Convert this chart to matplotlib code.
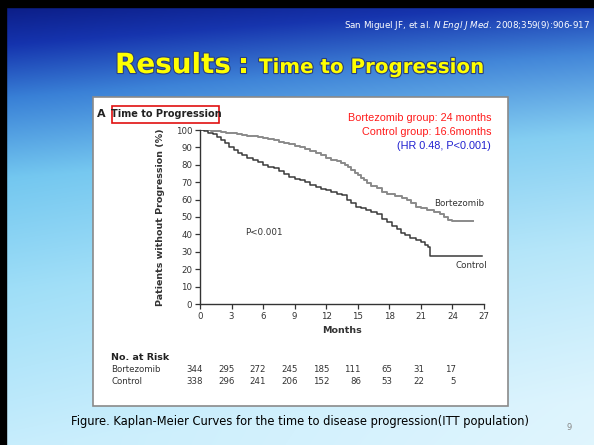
import numpy as np
import matplotlib.pyplot as plt
import matplotlib.patheffects as pe
from matplotlib.patches import Rectangle
import matplotlib.transforms as mtransforms

# ---------------- data ----------------
bort_t = [0, 0.5, 1, 1.5, 2, 2.5, 3, 3.5, 4, 4.5, 5, 5.5, 6, 6.5, 7, 7.5, 8, 8.5, 9, 9.5,
          10, 10.5, 11, 11.5, 12, 12.5, 13, 13.4, 13.8, 14.1, 14.4, 14.7, 15, 15.3, 15.6,
          15.9, 16.3, 16.8, 17.3, 17.8, 18.5, 19.2, 19.7, 20.1, 20.5, 21, 21.6, 22.2, 22.8,
          23.2, 23.6, 24, 26]
bort_s = [100, 99.8, 99.5, 99.2, 98.8, 98.4, 98, 97.6, 97.2, 96.8, 96.3, 95.8, 95.3, 94.6,
          94, 93.3, 92.5, 91.8, 91, 90.2, 89.3, 88.2, 87, 85.5, 84, 83, 82, 81, 80, 78.5,
          77, 75.5, 74, 72.5, 71, 69.5, 68, 66.5, 64.5, 63, 62, 61, 60, 58, 56, 55, 54, 53,
          51.5, 50, 48.5, 47.5, 47.5]

ctrl_t = [0, 0.4, 0.8, 1.2, 1.6, 2, 2.4, 2.8, 3.2, 3.6, 4, 4.5, 5, 5.5, 6, 6.5, 7, 7.5, 8,
          8.5, 9, 9.5, 10, 10.5, 11, 11.5, 12, 12.5, 13, 13.5, 14, 14.4, 14.8, 15.3, 15.8,
          16.3, 16.8, 17.3, 17.8, 18.3, 18.7, 19.1, 19.5, 20, 20.5, 21, 21.4, 21.7, 21.9, 26.8]
ctrl_s = [100, 99.5, 98.5, 97.5, 96, 94.5, 92.5, 90.5, 88.5, 87, 85.5, 84, 83, 81.5, 80, 79,
          78, 76.5, 75, 73, 72, 71, 70, 68.5, 67, 66, 65.3, 64.5, 63.5, 62.5, 60, 58, 56, 55,
          54, 53, 51.5, 49, 47, 45, 43, 41, 39.5, 38, 37, 35.5, 34, 32.5, 27.5, 27.5]

risk_months = [0, 3, 6, 9, 12, 15, 18, 21, 24]
risk_bort = [344, 295, 272, 245, 185, 111, 65, 31, 17]
risk_ctrl = [338, 296, 241, 206, 152, 86, 53, 22, 5]

W, H = 594, 445
fig = plt.figure(figsize=(W / 100, H / 100), dpi=100)

# ---------------- slide background ----------------
bg = fig.add_axes([0, 0, 1, 1])
yy, xx = np.mgrid[0:H, 0:W]
v = yy / H
h = xx / W
stops = [0, 0.1, 0.22, 0.4, 0.65, 1.0]
cols = np.array([[0.04, 0.10, 0.50],
                 [0.08, 0.20, 0.68],
                 [0.22, 0.50, 0.84],
                 [0.45, 0.78, 0.94],
                 [0.62, 0.87, 0.97],
                 [0.78, 0.93, 0.99]])
p = v + 0.10 * h
img = np.stack([np.interp(p, stops, cols[:, i]) for i in range(3)], axis=-1)
img = img + (1 - img) * (0.45 * h * v)[..., None]
img = np.clip(img, 0, 1)
bg.imshow(img, extent=[0, W, H, 0], aspect='auto')
bg.set_xlim(0, W)
bg.set_ylim(H, 0)
bg.axis('off')

# black frame edges
bg.add_patch(Rectangle((0, 0), W, 7, color='black'))
bg.add_patch(Rectangle((0, 0), 6, H, color='black'))

# citation
bg.text(590, 25, r'San Miguel JF, et al. $\mathit{N\ Engl\ J\ Med.}$ 2008;359(9):906-917',
        color='white', fontsize=6.3, ha='right', va='center')

# title
shadow = [pe.withStroke(linewidth=1.6, foreground='#2a3f80')]
bg.text(115, 73, 'Results', color='#ffff00', fontsize=20, fontweight='bold',
        ha='left', va='baseline', path_effects=shadow)
bg.text(238, 73, ':', color='#ffff00', fontsize=20, fontweight='bold',
        ha='left', va='baseline', path_effects=shadow)
bg.text(259, 73, 'Time to Progression', color='#ffff00', fontsize=14.3, fontweight='bold',
        ha='left', va='baseline', path_effects=shadow)

# white panel
bg.add_patch(Rectangle((93, 97), 415, 309, facecolor='white', edgecolor='#8a8a8a', lw=1.2))

bg.text(97, 114, 'A', fontsize=8, fontweight='bold', ha='left', va='center', color='#222222')
bg.text(166, 114, 'Time to Progression', fontsize=7, fontweight='bold', ha='center',
        va='center', color='#222222')
bg.add_patch(Rectangle((112, 106), 107, 17, facecolor='none', edgecolor='#e01010', lw=1.2))

bg.text(491, 118, 'Bortezomib group: 24 months', color='#ff1a1a', fontsize=7.8,
        family='Liberation Sans', ha='right', va='center')
bg.text(491, 132, 'Control group: 16.6months', color='#ff1a1a', fontsize=7.8,
        family='Liberation Sans', ha='right', va='center')
bg.text(491, 146, '(HR 0.48, P<0.001)', color='#2020d0', fontsize=7.8,
        family='Liberation Sans', ha='right', va='center')

# caption and page number
bg.text(300, 422, 'Figure. Kaplan-Meier Curves for the time to disease progression(ITT population)',
        fontsize=8.3, ha='center', va='center', color='black')
bg.text(569, 428, '9', fontsize=6, ha='center', va='center', color='#888888')

# ---------------- KM chart ----------------
ax = fig.add_axes([200 / W, 1 - 304 / H, 284 / W, 174 / H])
ax.set_facecolor('none')
ax.step(bort_t, bort_s, where='post', color='#8a8a8a', lw=1.4)
ax.step(ctrl_t, ctrl_s, where='post', color='#3a3a3a', lw=1.1)
ax.set_xlim(0, 27)
ax.set_ylim(0, 100)
ax.set_xticks(range(0, 28, 3))
ax.set_yticks(range(0, 101, 10))
for s in ['top', 'right']:
    ax.spines[s].set_visible(False)
for s in ['left', 'bottom']:
    ax.spines[s].set_color('#333333')
    ax.spines[s].set_linewidth(1.0)
ax.tick_params(axis='both', direction='out', length=3.5, width=0.9, colors='#333333',
               labelsize=6.2, pad=2)
ax.set_xlabel('Months', fontsize=6.8, fontweight='bold', color='#333333', labelpad=4)
ax.set_ylabel('Patients without Progression (%)', fontsize=6.8, fontweight='bold',
              color='#333333', labelpad=8)

ax.text(4.3, 41, 'P<0.001', fontsize=6.3, color='#333333', va='center')
ax.text(22.3, 58, 'Bortezomib', fontsize=6.3, color='#333333', va='center')
ax.text(27.3, 22, 'Control', fontsize=6.3, color='#333333', va='center', ha='right')

# number at risk table
trans = mtransforms.blended_transform_factory(ax.transData, bg.transData)
bg.text(111, 357, 'No. at Risk', fontsize=6.8, fontweight='bold', color='#222222', va='center')
bg.text(111, 370, 'Bortezomib', fontsize=6.2, color='#333333', va='center')
bg.text(111, 382, 'Control', fontsize=6.2, color='#333333', va='center')
for t, nb, nc in zip(risk_months, risk_bort, risk_ctrl):
    ax.text(t + 0.3, 370, str(nb), transform=trans, fontsize=6.2, color='#333333',
            ha='right', va='center')
    ax.text(t + 0.3, 382, str(nc), transform=trans, fontsize=6.2, color='#333333',
            ha='right', va='center')

fig.savefig('out.png', dpi=100)
